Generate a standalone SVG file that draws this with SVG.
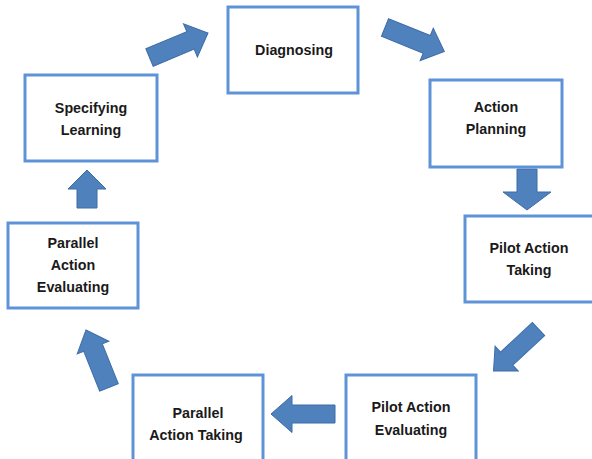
<svg xmlns="http://www.w3.org/2000/svg" width="592" height="459" viewBox="0 0 592 459">
<style>
.box{fill:#ffffff;stroke:#5F93D8;stroke-width:3}
.lbl{font-family:"Liberation Sans",Arial,sans-serif;font-weight:bold;font-size:14.3px;fill:#1a1a1a;text-anchor:middle}
.arr{fill:#4F81BD;stroke:#3D6DA8;stroke-width:1;stroke-linejoin:miter}
</style>
<rect width="592" height="459" fill="#ffffff"/>
<g id="connectors">
<polygon class="arr" transform="translate(149.5,57.5) rotate(-22.7)" points="0,-9.5 44.4,-9.5 44.4,-18 63.4,0 44.4,18 44.4,9.5 0,9.5"/>
<polygon class="arr" transform="translate(385,27.5) rotate(22)" points="0,-9.5 45,-9.5 45,-17.5 64,0 45,17.5 45,9.5 0,9.5"/>
<polygon class="arr" transform="translate(527,169) rotate(90)" points="0,-10 23,-10 23,-24 41,0 23,24 23,10 0,10"/>
<polygon class="arr" transform="translate(538.5,329) rotate(137)" points="0,-9 43.5,-9 43.5,-17 61.5,0 43.5,17 43.5,9 0,9"/>
<polygon class="arr" transform="translate(335,414) rotate(180)" points="0,-9 43,-9 43,-18.5 64,0 43,18.5 43,9 0,9"/>
<polygon class="arr" transform="translate(109,387.5) rotate(-111.8)" points="0,-10 43,-10 43,-17 62,0 43,17 43,10 0,10"/>
<polygon class="arr" transform="translate(87,208) rotate(-90)" points="0,-10 19,-10 19,-19 38,0 19,19 19,10 0,10"/>
</g>
<g id="node-diagnosing">
<rect class="box" x="228" y="7" width="130" height="86"/>
<text class="lbl" x="294" y="55">Diagnosing</text>
</g>
<g id="node-action-planning">
<rect class="box" x="430" y="80" width="132" height="87"/>
<text class="lbl" x="496" y="112">Action</text>
<text class="lbl" x="496" y="134">Planning</text>
</g>
<g id="node-pilot-action-taking">
<rect class="box" x="465" y="216" width="132" height="86"/>
<text class="lbl" x="529" y="253">Pilot Action</text>
<text class="lbl" x="529" y="275">Taking</text>
</g>
<g id="node-pilot-action-evaluating">
<rect class="box" x="346" y="375" width="130" height="88"/>
<text class="lbl" x="411" y="412">Pilot Action</text>
<text class="lbl" x="411" y="435">Evaluating</text>
</g>
<g id="node-parallel-action-taking">
<rect class="box" x="133" y="375" width="130" height="88"/>
<text class="lbl" x="198" y="418">Parallel</text>
<text class="lbl" x="196" y="440">Action Taking</text>
</g>
<g id="node-parallel-action-evaluating">
<rect class="box" x="8" y="223" width="130" height="85"/>
<text class="lbl" x="73" y="248">Parallel</text>
<text class="lbl" x="73" y="270">Action</text>
<text class="lbl" x="73" y="292">Evaluating</text>
</g>
<g id="node-specifying-learning">
<rect class="box" x="25" y="75" width="132" height="86"/>
<text class="lbl" x="91" y="113">Specifying</text>
<text class="lbl" x="91" y="135">Learning</text>
</g>
</svg>
